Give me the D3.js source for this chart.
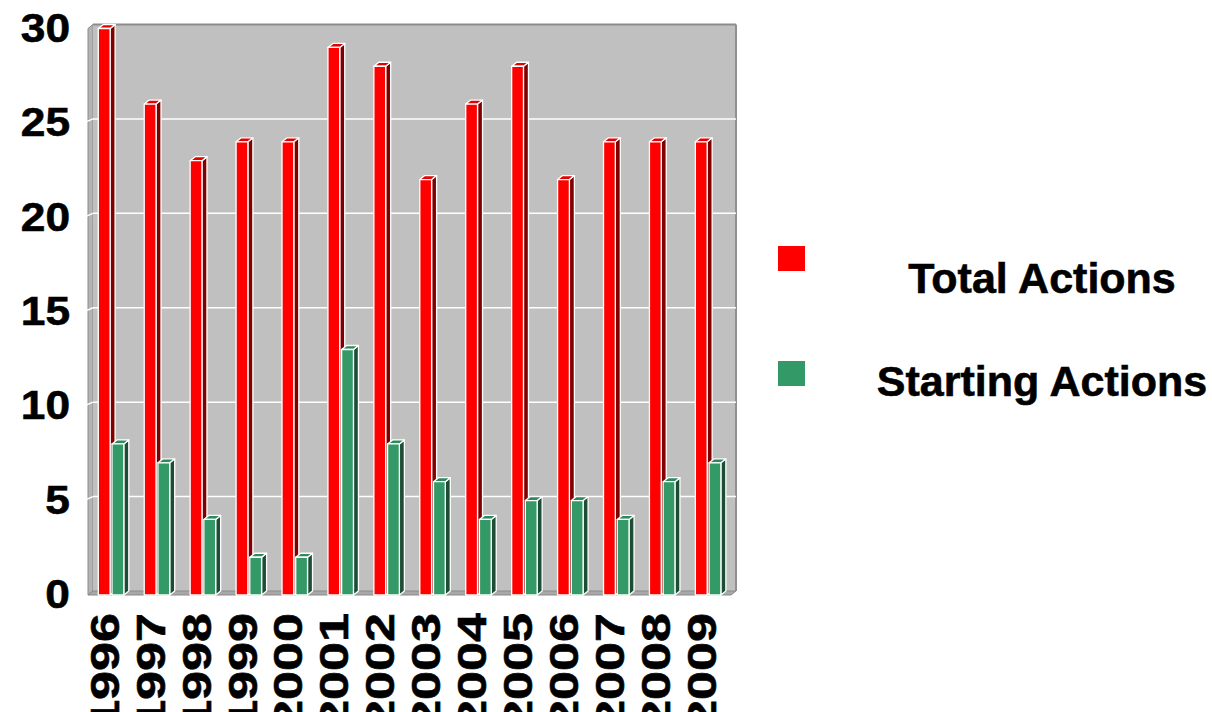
<!DOCTYPE html>
<html>
<head>
<meta charset="utf-8">
<script src="https://cdn.jsdelivr.net/npm/d3@7"></script>
<style>
  html, body { margin: 0; padding: 0; background: #fff; }
  svg { display: block; }
  text { font-family: "Liberation Sans", Arial, sans-serif; font-weight: bold; fill: #000; stroke: #000; stroke-width: 0.6px; }
</style>
</head>
<body>
<svg id="chart" width="1212" height="712"></svg>
<script>
// Yearly counts
const years = ["1996","1997","1998","1999","2000","2001","2002","2003","2004","2005","2006","2007","2008","2009"];
const totalActions = [30, 26, 23, 24, 24, 29, 28, 22, 26, 28, 22, 24, 24, 24];
const startingActions = [8, 7, 4, 2, 2, 13, 8, 6, 4, 5, 5, 4, 6, 7];
const yTicks = [0, 5, 10, 15, 20, 25, 30];
const seriesNames = ["Total Actions", "Starting Actions"];

const svg = d3.select("#chart");

// 3D depth offset of the box (back plane is shifted right and up)
const depth = { dx: 5, dy: -4 };

// Scales for the front plane
const x = d3.scaleBand().domain(years).range([88, 731]).paddingInner(0).paddingOuter(0);
const y = d3.scaleLinear().domain([0, 30]).range([595, 28.5]);
const yBack = v => y(v) + depth.dy;

const left = x.range()[0], right = x.range()[1];
const backL = left + depth.dx, backR = right + depth.dx;

const walls = svg.append("g");

// left side wall
walls.append("polygon")
  .attr("points", [[left, y(30)], [backL, yBack(30)], [backL, yBack(0)], [left, y(0)]].join(" "))
  .attr("fill", "#b4b4b4").attr("stroke", "#8a8a8a").attr("stroke-width", 1);

// back wall
walls.append("rect")
  .attr("x", backL).attr("y", yBack(30))
  .attr("width", backR - backL).attr("height", yBack(0) - yBack(30))
  .attr("fill", "#c0c0c0");
walls.append("line")
  .attr("x1", backL).attr("x2", backR).attr("y1", yBack(30)).attr("y2", yBack(30))
  .attr("stroke", "#8c8c8c").attr("stroke-width", 2);
walls.append("line")
  .attr("x1", backR).attr("x2", backR).attr("y1", yBack(30)).attr("y2", yBack(0))
  .attr("stroke", "#909090").attr("stroke-width", 2);

// floor
walls.append("polygon")
  .attr("points", [[left, y(0)], [backL, yBack(0)], [backR, yBack(0)], [right, y(0)]].join(" "))
  .attr("fill", "#a8a8a8").attr("stroke", "#8a8a8a").attr("stroke-width", 1);

// gridlines on back wall and across side wall
const grid = svg.append("g");
yTicks.filter(v => v > 0 && v < 30).forEach(v => {
  grid.append("line")
    .attr("x1", backL).attr("x2", backR).attr("y1", yBack(v)).attr("y2", yBack(v))
    .attr("stroke", "#fff").attr("stroke-width", 1.5);
  grid.append("line")
    .attr("x1", left - 2).attr("x2", backL).attr("y1", y(v) - 1).attr("y2", yBack(v))
    .attr("stroke", "#fff").attr("stroke-width", 1.5);
});

// 3D bars
const barW = 11.8;
const series = [
  { values: totalActions, offset: 10.3, front: "#ff0000", side: "#800000", top: "#e60000" },
  { values: startingActions, offset: 24, front: "#339966", side: "#1d4d35", top: "#2e8a5c" }
];

const bars = svg.append("g");
years.forEach((yr, i) => {
  series.forEach(s => {
    const x0 = x(yr) + s.offset, x1 = x0 + barW;
    const yt = y(s.values[i]), yb = y(0);
    const g = bars.append("g").attr("stroke", "#fff").attr("stroke-width", 1.3).attr("stroke-linejoin", "round");
    g.append("polygon")
      .attr("points", [[x1, yt], [x1 + depth.dx, yt + depth.dy], [x1 + depth.dx, yb + depth.dy], [x1, yb]].join(" "))
      .attr("fill", s.side);
    g.append("polygon")
      .attr("points", [[x0, yt], [x0 + depth.dx, yt + depth.dy], [x1 + depth.dx, yt + depth.dy], [x1, yt]].join(" "))
      .attr("fill", s.top);
    g.append("rect")
      .attr("x", x0).attr("y", yt).attr("width", barW).attr("height", yb - yt)
      .attr("fill", s.front);
  });
});

// value axis labels
const yl = svg.append("g");
yTicks.forEach(v => {
  yl.append("text")
    .attr("transform", `translate(70,${yBack(v) + 2.5}) scale(1.08,1)`)
    .attr("text-anchor", "end")
    .attr("dy", "0.36em")
    .attr("font-size", 41)
    .text(v);
});

// category labels, rotated
const xl = svg.append("g");
years.forEach(yr => {
  xl.append("text")
    .attr("transform", `translate(${x(yr) + 16},613) rotate(-90) scale(1.27,1)`)
    .attr("text-anchor", "end")
    .attr("dy", "0.36em")
    .attr("font-size", 41)
    .text(yr);
});

// legend
const legendColors = ["#ff0000", "#339966"];
const legendY = [246, 361];
const legendBase = [293, 396];
const lg = svg.append("g");
seriesNames.forEach((name, i) => {
  lg.append("rect")
    .attr("x", 778).attr("y", legendY[i]).attr("width", 27).attr("height", 25)
    .attr("fill", legendColors[i]);
  lg.append("text")
    .attr("x", 1042).attr("y", legendBase[i])
    .attr("text-anchor", "middle")
    .attr("font-size", 43)
    .text(name);
});
</script>
</body>
</html>
